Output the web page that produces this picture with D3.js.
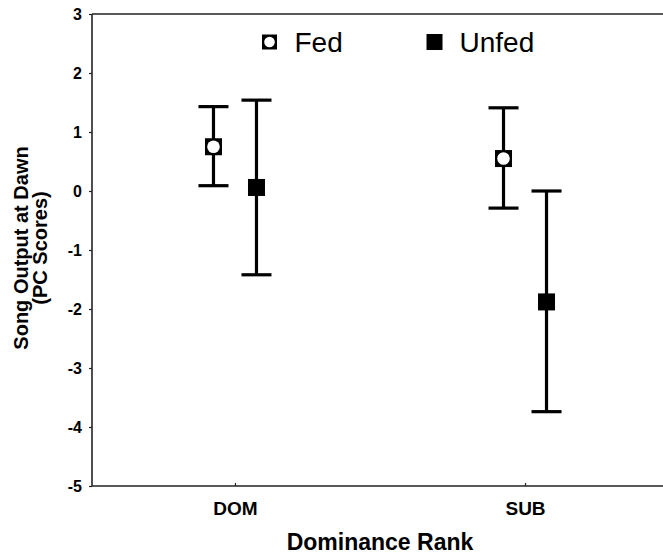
<!DOCTYPE html>
<html>
<head>
<meta charset="utf-8">
<script src="https://cdnjs.cloudflare.com/ajax/libs/d3/7.8.5/d3.min.js"></script>
<style>
  body { margin: 0; background: #fff; }
  text { font-family: Arial, "Liberation Sans", sans-serif; fill: #000; }
</style>
</head>
<body>
<div id="chart"></div>
<script>
// Data
const categories = ["DOM", "SUB"];
const series = ["Fed", "Unfed"];
const fedMean = [0.75, 0.55];
const fedUpper = [1.43, 1.41];
const fedLower = [0.09, -0.29];
const unfedMean = [0.06, -1.88];
const unfedUpper = [1.54, 0.0];
const unfedLower = [-1.42, -3.74];
const yTicks = [3, 2, 1, 0, -1, -2, -3, -4, -5];

const width = 663, height = 556;
const margin = {top: 14, right: -5, bottom: 70, left: 92};
const plotW = width - margin.left - margin.right;
const plotH = height - margin.top - margin.bottom;

const svg = d3.select("#chart").append("svg")
    .attr("width", width)
    .attr("height", height);

const g = svg.append("g")
    .attr("transform", `translate(${margin.left},${margin.top})`);

const x = d3.scalePoint().domain(categories).range([0, plotW]).padding(0.493);
const offset = d3.scalePoint().domain(series).range([-21.5, 21.5]);
const y = d3.scaleLinear().domain([-5, 3]).range([plotH, 0]);

// frame: left axis, bottom axis, top line
const yAxis = g.append("g")
    .call(d3.axisLeft(y).tickValues(yTicks).tickSize(3).tickPadding(7).tickFormat(d => String(d)));
yAxis.select(".domain").attr("d", `M0,0V${plotH}`).attr("stroke", "#222").attr("stroke-width", 1.6);
yAxis.selectAll(".tick line").attr("stroke", "#222").attr("stroke-width", 1.2);
yAxis.selectAll(".tick text")
    .style("font-size", "16px").style("font-weight", "bold")
    .attr("font-family", null);

const xAxis = g.append("g")
    .attr("transform", `translate(0,${plotH})`)
    .call(d3.axisBottom(x).tickSize(-3).tickPadding(0));
xAxis.select(".domain").attr("d", `M0,0H${plotW}`).attr("stroke", "#222").attr("stroke-width", 1.6);
xAxis.selectAll(".tick line").attr("stroke", "#222").attr("stroke-width", 1.2);
xAxis.selectAll(".tick text")
    .attr("y", 29).attr("dy", null)
    .style("font-size", "19px").style("font-weight", "bold")
    .attr("font-family", null);

g.append("line")
    .attr("x1", 0).attr("x2", plotW)
    .attr("y1", 0).attr("y2", 0)
    .attr("stroke", "#222").attr("stroke-width", 1.6);

// error bars
const rows = [];
categories.forEach((c, i) => {
    rows.push({cat: c, s: "Fed", mean: fedMean[i], hi: fedUpper[i], lo: fedLower[i]});
    rows.push({cat: c, s: "Unfed", mean: unfedMean[i], hi: unfedUpper[i], lo: unfedLower[i]});
});
const cx = d => x(d.cat) + offset(d.s);
const capW = 30;

const bars = g.selectAll(".bar").data(rows).join("g").attr("class", "bar");
bars.append("line")
    .attr("x1", cx).attr("x2", cx)
    .attr("y1", d => y(d.hi)).attr("y2", d => y(d.lo))
    .attr("stroke", "#000").attr("stroke-width", 3.2);
bars.append("line")
    .attr("x1", d => cx(d) - capW / 2).attr("x2", d => cx(d) + capW / 2)
    .attr("y1", d => y(d.hi)).attr("y2", d => y(d.hi))
    .attr("stroke", "#000").attr("stroke-width", 3.2);
bars.append("line")
    .attr("x1", d => cx(d) - capW / 2).attr("x2", d => cx(d) + capW / 2)
    .attr("y1", d => y(d.lo)).attr("y2", d => y(d.lo))
    .attr("stroke", "#000").attr("stroke-width", 3.2);

const sq = 17;
bars.append("rect")
    .attr("x", d => cx(d) - sq / 2).attr("y", d => y(d.mean) - sq / 2)
    .attr("width", sq).attr("height", sq)
    .attr("fill", "#000");
bars.filter(d => d.s === "Fed").append("circle")
    .attr("cx", cx).attr("cy", d => y(d.mean))
    .attr("r", 6.3)
    .attr("fill", "#fff");

// legend
const legend = svg.append("g");
const legendX = [269.5, 434.5];
series.forEach((s, i) => {
    const lg = legend.append("g").attr("transform", `translate(${legendX[i]},42)`);
    const size = s === "Fed" ? 15 : 16;
    lg.append("rect").attr("x", -size / 2).attr("y", -size / 2)
        .attr("width", size).attr("height", size).attr("fill", "#000");
    if (s === "Fed") lg.append("circle").attr("r", 5.3).attr("fill", "#fff");
    lg.append("text").attr("x", 25).attr("y", 10)
        .style("font-size", "28px")
        .text(s);
});

// axis titles
svg.append("text")
    .attr("x", 380).attr("y", 550)
    .attr("text-anchor", "middle")
    .style("font-size", "23px").style("font-weight", "bold")
    .text("Dominance Rank");

const yt = svg.append("text")
    .attr("transform", "translate(0,248) rotate(-90)")
    .attr("text-anchor", "middle")
    .style("font-size", "20px").style("font-weight", "bold");
yt.append("tspan").attr("x", 0).attr("y", 28).text("Song Output at Dawn");
yt.append("tspan").attr("x", 0).attr("y", 47).text("(PC Scores)");
</script>
</body>
</html>
